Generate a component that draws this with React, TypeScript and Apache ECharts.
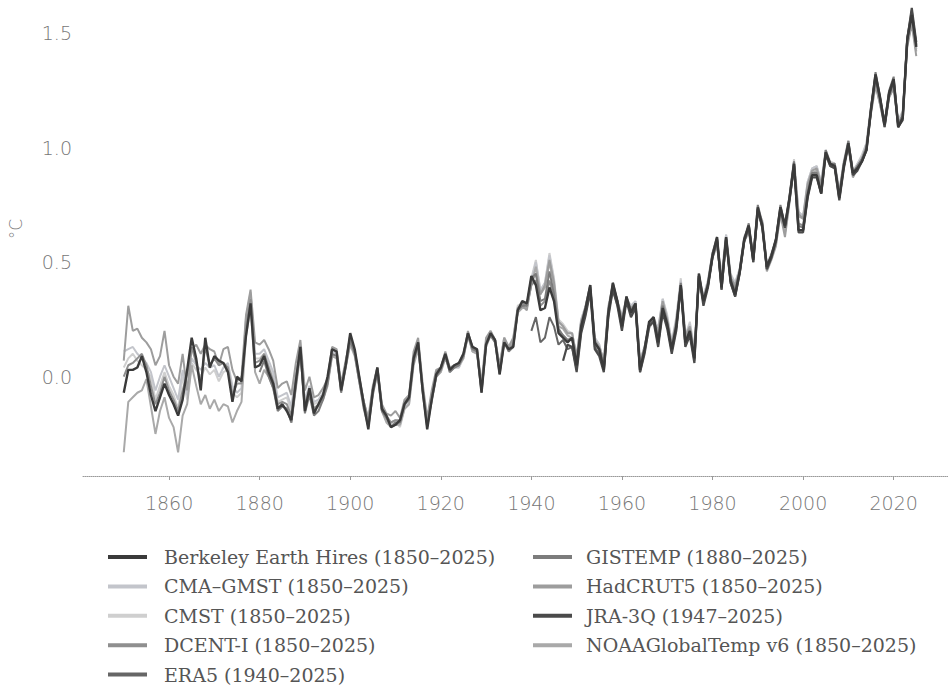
import React, { useEffect, useRef } from "react";
import * as echarts from "echarts";

const seriesNames = [
  "Berkeley Earth Hires (1850–2025)",
  "CMA–GMST (1850–2025)",
  "CMST (1850–2025)",
  "DCENT-I (1850–2025)",
  "ERA5 (1940–2025)",
  "GISTEMP (1880–2025)",
  "HadCRUT5 (1850–2025)",
  "JRA-3Q (1947–2025)",
  "NOAAGlobalTemp v6 (1850–2025)",
];
const startYears = [1850, 1850, 1850, 1850, 1940, 1880, 1850, 1947, 1850];
const xTicks = [1860, 1880, 1900, 1920, 1940, 1960, 1980, 2000, 2020];
const yTicks = [0, 0.5, 1.0, 1.5];

const berkeley = [
  -0.07, 0.03, 0.03, 0.04, 0.09, 0.02, -0.08, -0.15, -0.09, -0.03,
  -0.08, -0.12, -0.17, -0.10, 0.03, 0.17, 0.08, -0.06, 0.17, 0.04,
  0.09, 0.07, 0.06, 0.02, -0.11, 0.00, -0.02, 0.18, 0.32, 0.04,
  0.05, 0.09, 0.02, -0.03, -0.14, -0.12, -0.15, -0.19, -0.02, 0.13,
  -0.15, -0.05, -0.16, -0.12, -0.08, 0.00, 0.12, 0.11, -0.06, 0.05,
  0.19, 0.12, 0.00, -0.12, -0.23, -0.06, 0.04, -0.14, -0.17, -0.22,
  -0.21, -0.19, -0.12, -0.09, 0.08, 0.15, -0.06, -0.23, -0.10, 0.01,
  0.04, 0.10, 0.03, 0.05, 0.06, 0.10, 0.19, 0.13, 0.12, -0.07,
  0.14, 0.19, 0.16, 0.01, 0.15, 0.12, 0.13, 0.29, 0.33, 0.32,
  0.44, 0.40, 0.29, 0.30, 0.39, 0.33, 0.19, 0.17, 0.15, 0.17,
  0.05, 0.22, 0.30, 0.40, 0.15, 0.12, 0.03, 0.28, 0.41, 0.33,
  0.22, 0.35, 0.28, 0.32, 0.03, 0.12, 0.24, 0.26, 0.15, 0.30,
  0.23, 0.12, 0.22, 0.40, 0.15, 0.20, 0.08, 0.45, 0.33, 0.40,
  0.53, 0.61, 0.39, 0.61, 0.42, 0.36, 0.46, 0.60, 0.66, 0.51,
  0.74, 0.66, 0.48, 0.53, 0.60, 0.74, 0.66, 0.78, 0.93, 0.64,
  0.64, 0.79, 0.88, 0.88, 0.80, 0.98, 0.93, 0.92, 0.78, 0.92,
  1.02, 0.89, 0.91, 0.94, 0.99, 1.17, 1.32, 1.22, 1.10, 1.24,
  1.30, 1.09, 1.13, 1.47, 1.58, 1.44,
];

const cmaGmst = [
  0.11, 0.12, 0.13, 0.10, 0.08, 0.06, 0.02, -0.06, 0.00, 0.05,
  0.00, -0.05, -0.10, 0.03, -0.08, 0.08, 0.05, 0.03, 0.06, 0.04,
  0.05, 0.00, 0.04, 0.06, -0.04, -0.07, -0.05, 0.26, 0.36, 0.10,
  0.10, 0.12, 0.07, 0.02, -0.09, -0.08, -0.07, -0.13, 0.01, 0.12,
  -0.10, -0.04, -0.11, -0.10, -0.07, -0.03, 0.11, 0.10, -0.04, 0.05,
  0.15, 0.10, -0.02, -0.12, -0.20, -0.06, 0.03, -0.14, -0.19, -0.20,
  -0.19, -0.21, -0.13, -0.11, 0.07, 0.14, -0.06, -0.19, -0.08, 0.01,
  0.03, 0.09, 0.02, 0.04, 0.04, 0.09, 0.19, 0.11, 0.11, -0.05,
  0.15, 0.19, 0.16, 0.04, 0.17, 0.13, 0.16, 0.30, 0.31, 0.30,
  0.42, 0.50, 0.38, 0.41, 0.53, 0.42, 0.24, 0.22, 0.19, 0.19,
  0.08, 0.25, 0.31, 0.39, 0.17, 0.14, 0.06, 0.30, 0.39, 0.33,
  0.26, 0.34, 0.31, 0.33, 0.07, 0.13, 0.23, 0.25, 0.21, 0.34,
  0.26, 0.15, 0.25, 0.42, 0.18, 0.23, 0.11, 0.44, 0.35, 0.42,
  0.54, 0.58, 0.44, 0.62, 0.44, 0.41, 0.47, 0.61, 0.65, 0.53,
  0.72, 0.68, 0.48, 0.53, 0.59, 0.72, 0.63, 0.78, 0.94, 0.72,
  0.70, 0.85, 0.91, 0.92, 0.85, 0.99, 0.93, 0.93, 0.81, 0.94,
  1.03, 0.89, 0.93, 0.96, 1.02, 1.18, 1.30, 1.21, 1.11, 1.24,
  1.28, 1.12, 1.15, 1.46, 1.57, 1.43,
];

const cmst = [
  0.04, 0.08, 0.10, 0.07, 0.05, 0.03, 0.00, -0.10, -0.04, 0.02,
  -0.04, -0.08, -0.14, 0.00, -0.10, 0.06, 0.03, 0.00, 0.04, 0.01,
  0.03, -0.02, 0.02, 0.03, -0.07, -0.09, -0.07, 0.25, 0.37, 0.08,
  0.08, 0.10, 0.05, 0.00, -0.11, -0.10, -0.09, -0.15, 0.00, 0.11,
  -0.12, -0.05, -0.12, -0.11, -0.08, -0.03, 0.10, 0.09, -0.05, 0.05,
  0.16, 0.10, -0.02, -0.13, -0.21, -0.07, 0.02, -0.15, -0.19, -0.21,
  -0.20, -0.22, -0.14, -0.12, 0.06, 0.14, -0.06, -0.21, -0.09, 0.00,
  0.02, 0.09, 0.02, 0.04, 0.04, 0.08, 0.19, 0.11, 0.11, -0.05,
  0.15, 0.20, 0.16, 0.04, 0.17, 0.13, 0.16, 0.31, 0.32, 0.31,
  0.43, 0.51, 0.37, 0.41, 0.54, 0.43, 0.25, 0.23, 0.20, 0.19,
  0.08, 0.25, 0.31, 0.40, 0.17, 0.14, 0.06, 0.31, 0.40, 0.33,
  0.27, 0.34, 0.31, 0.33, 0.07, 0.13, 0.23, 0.26, 0.21, 0.34,
  0.27, 0.15, 0.26, 0.43, 0.18, 0.24, 0.12, 0.44, 0.35, 0.42,
  0.54, 0.59, 0.44, 0.62, 0.45, 0.41, 0.47, 0.61, 0.65, 0.53,
  0.73, 0.68, 0.49, 0.54, 0.59, 0.73, 0.63, 0.79, 0.95, 0.72,
  0.70, 0.85, 0.91, 0.92, 0.85, 0.99, 0.94, 0.93, 0.81, 0.94,
  1.03, 0.90, 0.93, 0.97, 1.02, 1.18, 1.30, 1.21, 1.11, 1.24,
  1.28, 1.12, 1.16, 1.47, 1.57, 1.43,
];

const dcent = [
  0.00, 0.05, 0.06, 0.08, 0.10, 0.05, -0.04, -0.12, -0.07, 0.00,
  -0.06, -0.10, -0.15, -0.06, 0.01, 0.13, 0.06, -0.03, 0.13, 0.05,
  0.08, 0.05, 0.06, 0.04, -0.08, -0.03, -0.03, 0.22, 0.34, 0.06,
  0.07, 0.10, 0.04, -0.02, -0.12, -0.11, -0.12, -0.17, -0.01, 0.13,
  -0.13, -0.05, -0.14, -0.12, -0.08, -0.01, 0.12, 0.11, -0.05, 0.06,
  0.18, 0.11, 0.00, -0.11, -0.20, -0.05, 0.04, -0.13, -0.17, -0.20,
  -0.19, -0.19, -0.11, -0.09, 0.09, 0.15, -0.05, -0.21, -0.09, 0.02,
  0.04, 0.10, 0.03, 0.05, 0.06, 0.10, 0.19, 0.13, 0.12, -0.06,
  0.15, 0.19, 0.16, 0.02, 0.15, 0.12, 0.14, 0.29, 0.32, 0.31,
  0.40, 0.42, 0.31, 0.33, 0.42, 0.35, 0.20, 0.18, 0.16, 0.17,
  0.05, 0.22, 0.29, 0.39, 0.15, 0.12, 0.04, 0.28, 0.40, 0.33,
  0.23, 0.34, 0.28, 0.32, 0.04, 0.12, 0.23, 0.25, 0.16, 0.31,
  0.23, 0.13, 0.23, 0.40, 0.16, 0.21, 0.09, 0.44, 0.33, 0.40,
  0.53, 0.59, 0.40, 0.61, 0.43, 0.38, 0.46, 0.60, 0.65, 0.52,
  0.73, 0.66, 0.48, 0.53, 0.59, 0.73, 0.65, 0.78, 0.93, 0.67,
  0.66, 0.81, 0.89, 0.89, 0.82, 0.98, 0.93, 0.92, 0.79, 0.93,
  1.02, 0.89, 0.92, 0.95, 1.00, 1.17, 1.31, 1.21, 1.10, 1.24,
  1.29, 1.10, 1.14, 1.47, 1.58, 1.44,
];

const era5 = [
  0.20, 0.26, 0.15, 0.17, 0.26, 0.22, 0.14, 0.16, 0.12, 0.13,
  0.03, 0.20, 0.28, 0.38, 0.13, 0.10, 0.03, 0.27, 0.39, 0.32,
  0.21, 0.34, 0.27, 0.31, 0.02, 0.11, 0.23, 0.25, 0.14, 0.29,
  0.22, 0.11, 0.21, 0.40, 0.14, 0.19, 0.07, 0.44, 0.32, 0.40,
  0.52, 0.60, 0.38, 0.60, 0.41, 0.35, 0.45, 0.59, 0.65, 0.50,
  0.73, 0.65, 0.47, 0.52, 0.60, 0.74, 0.66, 0.78, 0.93, 0.64,
  0.64, 0.79, 0.88, 0.88, 0.80, 0.98, 0.93, 0.92, 0.78, 0.92,
  1.02, 0.89, 0.91, 0.94, 0.99, 1.17, 1.32, 1.22, 1.10, 1.24,
  1.30, 1.10, 1.13, 1.48, 1.60, 1.45,
];

const gistemp = [
  0.02, 0.07, 0.00, -0.05, -0.15, -0.13, -0.14, -0.20, -0.04, 0.12,
  -0.16, -0.08, -0.17, -0.15, -0.10, -0.03, 0.10, 0.09, -0.07, 0.04,
  0.16, 0.10, -0.02, -0.14, -0.22, -0.08, 0.02, -0.15, -0.18, -0.22,
  -0.20, -0.20, -0.12, -0.10, 0.07, 0.14, -0.07, -0.22, -0.10, 0.00,
  0.03, 0.09, 0.02, 0.04, 0.05, 0.09, 0.18, 0.12, 0.11, -0.07,
  0.14, 0.18, 0.15, 0.01, 0.15, 0.11, 0.13, 0.29, 0.31, 0.31,
  0.43, 0.45, 0.33, 0.34, 0.46, 0.36, 0.21, 0.18, 0.16, 0.17,
  0.05, 0.22, 0.31, 0.40, 0.14, 0.12, 0.04, 0.29, 0.41, 0.33,
  0.23, 0.35, 0.29, 0.32, 0.04, 0.12, 0.23, 0.26, 0.16, 0.31,
  0.24, 0.12, 0.22, 0.41, 0.15, 0.20, 0.09, 0.45, 0.33, 0.41,
  0.54, 0.61, 0.40, 0.61, 0.42, 0.37, 0.46, 0.60, 0.67, 0.52,
  0.75, 0.67, 0.48, 0.53, 0.60, 0.75, 0.66, 0.79, 0.94, 0.66,
  0.65, 0.80, 0.89, 0.89, 0.81, 0.99, 0.93, 0.93, 0.79, 0.93,
  1.03, 0.89, 0.92, 0.95, 1.00, 1.17, 1.33, 1.22, 1.11, 1.25,
  1.31, 1.10, 1.14, 1.48, 1.59, 1.45,
];

const hadcrut5 = [
  0.07, 0.31, 0.20, 0.21, 0.17, 0.15, 0.12, 0.05, 0.09, 0.20,
  0.05, 0.00, -0.03, 0.10, -0.06, 0.12, 0.14, 0.10, 0.14, 0.12,
  0.11, 0.05, 0.12, 0.13, 0.03, -0.02, 0.00, 0.27, 0.38, 0.15,
  0.14, 0.16, 0.12, 0.07, -0.05, -0.03, -0.02, -0.08, 0.06, 0.16,
  -0.06, 0.00, -0.09, -0.08, -0.05, -0.01, 0.13, 0.12, -0.03, 0.07,
  0.16, 0.11, -0.01, -0.11, -0.18, -0.04, 0.04, -0.12, -0.16, -0.17,
  -0.15, -0.18, -0.10, -0.08, 0.11, 0.17, -0.03, -0.18, -0.06, 0.03,
  0.04, 0.11, 0.04, 0.05, 0.05, 0.09, 0.20, 0.12, 0.12, -0.03,
  0.17, 0.20, 0.16, 0.05, 0.17, 0.13, 0.17, 0.30, 0.31, 0.29,
  0.41, 0.45, 0.36, 0.40, 0.51, 0.41, 0.24, 0.22, 0.19, 0.19,
  0.09, 0.24, 0.30, 0.38, 0.16, 0.13, 0.07, 0.29, 0.37, 0.32,
  0.26, 0.32, 0.30, 0.32, 0.06, 0.13, 0.22, 0.24, 0.20, 0.33,
  0.25, 0.14, 0.24, 0.40, 0.18, 0.22, 0.11, 0.42, 0.34, 0.41,
  0.53, 0.57, 0.42, 0.60, 0.43, 0.40, 0.46, 0.60, 0.64, 0.52,
  0.71, 0.67, 0.46, 0.51, 0.57, 0.71, 0.61, 0.76, 0.93, 0.71,
  0.69, 0.84, 0.90, 0.91, 0.84, 0.98, 0.92, 0.92, 0.80, 0.93,
  1.01, 0.87, 0.91, 0.95, 1.00, 1.15, 1.27, 1.19, 1.09, 1.22,
  1.26, 1.10, 1.14, 1.44, 1.54, 1.40,
];

const jra3q = [
  0.07, 0.14, 0.13,
  0.02, 0.19, 0.27, 0.37, 0.12, 0.09, 0.02, 0.26, 0.38, 0.31,
  0.20, 0.33, 0.26, 0.30, 0.02, 0.10, 0.22, 0.24, 0.13, 0.28,
  0.21, 0.10, 0.20, 0.39, 0.13, 0.18, 0.06, 0.44, 0.31, 0.39,
  0.52, 0.60, 0.38, 0.60, 0.41, 0.35, 0.45, 0.59, 0.66, 0.50,
  0.73, 0.65, 0.47, 0.52, 0.59, 0.73, 0.65, 0.77, 0.92, 0.63,
  0.63, 0.78, 0.87, 0.87, 0.80, 0.97, 0.92, 0.91, 0.77, 0.91,
  1.01, 0.88, 0.90, 0.94, 0.99, 1.16, 1.31, 1.21, 1.09, 1.23,
  1.29, 1.09, 1.12, 1.47, 1.61, 1.46,
];

const noaa = [
  -0.33, -0.11, -0.09, -0.07, -0.06, -0.01, -0.13, -0.25, -0.15, -0.09,
  -0.18, -0.22, -0.33, -0.17, -0.12, 0.05, -0.04, -0.12, -0.08, -0.14,
  -0.10, -0.15, -0.12, -0.13, -0.20, -0.15, -0.11, 0.18, 0.30, 0.02,
  -0.03, 0.03, 0.00, -0.05, -0.13, -0.13, -0.14, -0.20, -0.05, 0.10,
  -0.14, -0.08, -0.14, -0.13, -0.10, -0.04, 0.09, 0.08, -0.05, 0.04,
  0.14, 0.09, -0.02, -0.11, -0.19, -0.07, 0.03, -0.15, -0.20, -0.22,
  -0.21, -0.21, -0.14, -0.12, 0.05, 0.12, -0.05, -0.20, -0.11, 0.00,
  0.02, 0.08, 0.03, 0.04, 0.05, 0.08, 0.18, 0.11, 0.10, -0.06,
  0.13, 0.18, 0.15, 0.02, 0.16, 0.12, 0.15, 0.28, 0.30, 0.30,
  0.40, 0.48, 0.36, 0.39, 0.50, 0.40, 0.22, 0.21, 0.18, 0.17,
  0.06, 0.24, 0.30, 0.39, 0.15, 0.12, 0.05, 0.30, 0.39, 0.31,
  0.24, 0.33, 0.29, 0.31, 0.05, 0.11, 0.21, 0.25, 0.18, 0.32,
  0.24, 0.13, 0.24, 0.39, 0.16, 0.21, 0.10, 0.43, 0.33, 0.40,
  0.52, 0.57, 0.42, 0.60, 0.43, 0.39, 0.45, 0.59, 0.63, 0.52,
  0.71, 0.67, 0.47, 0.52, 0.58, 0.71, 0.63, 0.77, 0.91, 0.70,
  0.69, 0.83, 0.89, 0.90, 0.83, 0.97, 0.92, 0.91, 0.80, 0.93,
  1.01, 0.88, 0.92, 0.95, 1.01, 1.16, 1.28, 1.19, 1.10, 1.22,
  1.26, 1.11, 1.14, 1.45, 1.55, 1.42,
];

const seriesValues = [berkeley, cmaGmst, cmst, dcent, era5, gistemp, hadcrut5, jra3q, noaa];
const colors = ["#3a3a3a", "#c3c5cb", "#cfcfcf", "#8f8f8f", "#666666", "#7c7c7c", "#9d9d9d", "#4a4a4a", "#a9a9a9"];
const lineWidths = [2.4, 2, 2, 2, 2, 2, 2, 2.2, 2];
const zOrder = [20, 12, 11, 15, 18, 16, 14, 19, 13];

export default function App() {
  const ref = useRef<HTMLDivElement>(null);
  useEffect(() => {
    if (!ref.current) return;
    const chart = echarts.init(ref.current, null, { renderer: "svg" });
    const series = seriesNames.map((name, k) => ({
      name,
      type: "line",
      data: seriesValues[k].map((v, i) => [startYears[k] + i, v]),
      showSymbol: false,
      symbol: "none",
      z: zOrder[k],
      lineStyle: { color: colors[k], width: lineWidths[k] },
      itemStyle: { color: colors[k] },
      emphasis: { disabled: true },
    }));
    const legendText = {
      color: "#555",
      fontFamily: "DejaVu Serif",
      fontSize: 19,
      lineHeight: 20,
    };
    const tickFont = {
      color: "#767676",
      fontFamily: "DejaVu Sans",
      fontWeight: 200,
      fontSize: 19,
    };
    chart.setOption({
      animation: false,
      backgroundColor: "#ffffff",
      grid: { left: 83, right: 0, top: 0, height: 476 },
      xAxis: {
        type: "value",
        min: 1841,
        max: 2032,
        axisLine: { show: true, onZero: false, lineStyle: { color: "#9a9a9a", type: "dotted", width: 1 } },
        axisTick: { show: true, customValues: xTicks, length: 4, lineStyle: { color: "#9a9a9a" } },
        axisLabel: {
          ...tickFont,
          customValues: xTicks,
          margin: 17,
          formatter: (v: number) => String(v),
        },
        splitLine: { show: false },
      },
      yAxis: {
        type: "value",
        min: -0.4336,
        max: 1.645,
        axisLine: { show: false },
        axisTick: { show: false },
        axisLabel: {
          ...tickFont,
          customValues: yTicks,
          margin: 11,
          formatter: (v: number) => v.toFixed(1),
        },
        splitLine: { show: false },
      },
      legend: [
        {
          data: seriesNames.slice(0, 5),
          orient: "vertical",
          left: 108,
          top: 547,
          padding: 0,
          itemWidth: 39,
          itemHeight: 4,
          itemGap: 9.4,
          icon: "rect",
          selectedMode: false,
          textStyle: { ...legendText, padding: [0, 0, 0, 12] },
        },
        {
          data: seriesNames.slice(5),
          orient: "vertical",
          left: 533,
          top: 547,
          padding: 0,
          itemWidth: 39,
          itemHeight: 4,
          itemGap: 9.4,
          icon: "rect",
          selectedMode: false,
          textStyle: { ...legendText, padding: [0, 0, 0, 9] },
        },
      ],
      graphic: [
        {
          type: "text",
          x: 16,
          y: 229,
          rotation: Math.PI / 2,
          style: {
            text: "°C",
            fill: "#767676",
            fontFamily: "DejaVu Sans",
            fontWeight: 200,
            fontSize: 17,
            align: "center",
            verticalAlign: "middle",
          },
        },
      ],
      series,
    });
    return () => chart.dispose();
  }, []);
  return (
    <div
      ref={ref}
      style={{ position: "absolute", left: 0, top: 0, width: 948, height: 690, background: "#fff" }}
    />
  );
}
